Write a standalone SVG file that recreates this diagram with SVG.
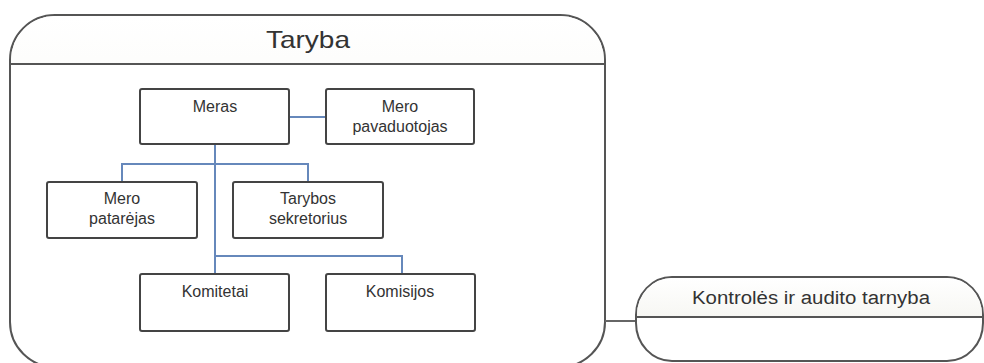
<svg xmlns="http://www.w3.org/2000/svg" width="984" height="363" viewBox="0 0 984 363">
<defs>
<linearGradient id="hdr" x1="0" y1="0" x2="0" y2="1">
<stop offset="0" stop-color="#ffffff"/>
<stop offset="1" stop-color="#eeeee6"/>
</linearGradient>
<clipPath id="cTop"><rect x="0" y="0" width="620" height="64"/></clipPath>
<clipPath id="kTop"><rect x="620" y="0" width="364" height="317"/></clipPath>
</defs>
<style>
.frame{fill:#fff;stroke:#555;stroke-width:2}
.hfill{fill:url(#hdr);stroke:none}
.div{stroke:#555;stroke-width:2}
.box{fill:#fff;stroke:#444;stroke-width:2}
.t{font-family:"Liberation Sans",Arial,sans-serif;fill:#333;text-anchor:middle}
.s{font-size:16px}
.conn{fill:none;stroke:#6688bb;stroke-width:2}
.gline{fill:none;stroke:#666;stroke-width:2}
</style>
<g id="taryba">
<rect class="frame" x="10" y="15" width="595" height="352" rx="45" ry="45"/>
<rect class="hfill" x="11" y="16" width="593" height="350" rx="44" ry="44" clip-path="url(#cTop)"/>
<line class="div" x1="10" y1="64" x2="605" y2="64"/>
<text class="t" x="308" y="48" font-size="24" textLength="84" lengthAdjust="spacingAndGlyphs">Taryba</text>
</g>
<g id="connectors">
<line class="conn" x1="289" y1="117" x2="326" y2="117"/>
<path class="conn" d="M215 144 V274"/>
<path class="conn" d="M122 182 V164 H308 V182"/>
<path class="conn" d="M215 256 H402 V274"/>
<line class="gline" x1="605" y1="321" x2="636" y2="321"/>
</g>
<g id="meras">
<rect class="box" x="140" y="89" width="149" height="55" rx="2"/>
<text class="t s" x="215" y="112">Meras</text>
</g>
<g id="mero-pavaduotojas">
<rect class="box" x="326" y="89" width="148" height="55" rx="2"/>
<text class="t s" x="400" y="112">Mero</text>
<text class="t s" x="400" y="132">pavaduotojas</text>
</g>
<g id="mero-patarejas">
<rect class="box" x="47" y="182" width="150" height="56" rx="2"/>
<text class="t s" x="122" y="204">Mero</text>
<text class="t s" x="122" y="224">patarėjas</text>
</g>
<g id="tarybos-sekretorius">
<rect class="box" x="233" y="182" width="150" height="56" rx="2"/>
<text class="t s" x="308" y="204">Tarybos</text>
<text class="t s" x="308" y="224">sekretorius</text>
</g>
<g id="komitetai">
<rect class="box" x="140" y="274" width="149" height="57" rx="2"/>
<text class="t s" x="215" y="297">Komitetai</text>
</g>
<g id="komisijos">
<rect class="box" x="326" y="274" width="149" height="57" rx="2"/>
<text class="t s" x="400" y="297">Komisijos</text>
</g>
<g id="kontroles">
<rect class="frame" x="636" y="277" width="347" height="84" rx="36" ry="38"/>
<rect class="hfill" x="637" y="278" width="345" height="82" rx="35" ry="37" clip-path="url(#kTop)"/>
<line class="div" x1="636" y1="317" x2="983" y2="317"/>
<text class="t" x="811" y="304" font-size="18" textLength="238" lengthAdjust="spacingAndGlyphs">Kontrolės ir audito tarnyba</text>
</g>
</svg>
